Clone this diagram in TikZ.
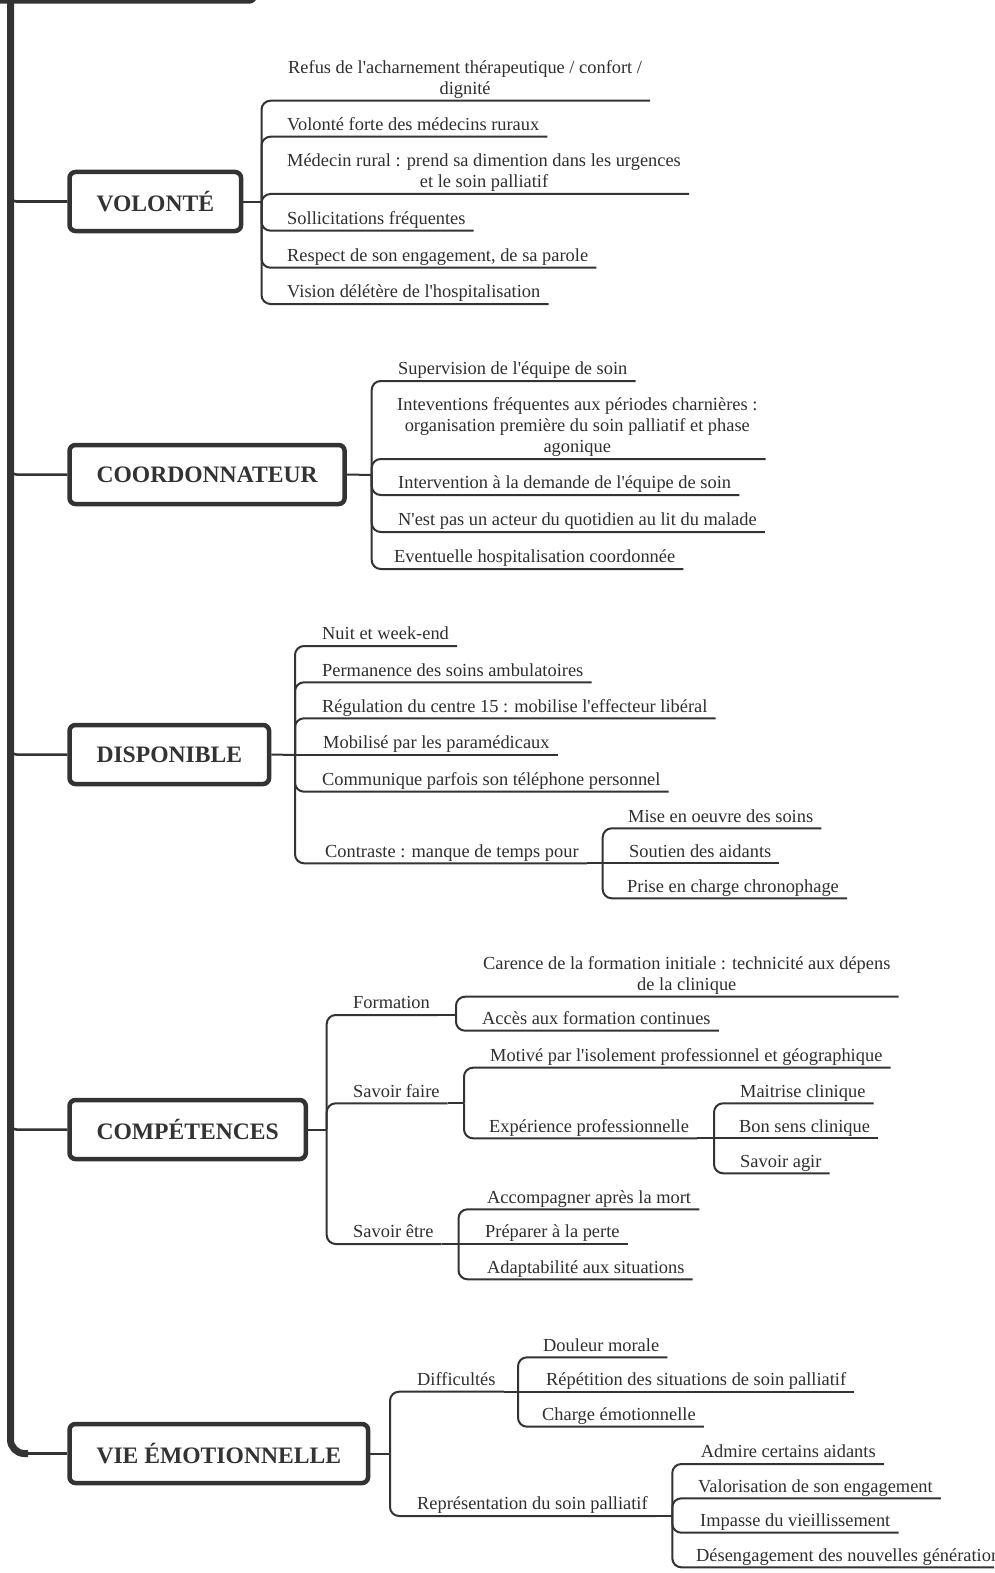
\documentclass[tikz,border=0pt]{standalone}
\usepackage{fontspec}
\newfontfamily\xf{Liberation Serif}
\definecolor{ink}{HTML}{333333}
\definecolor{txt}{HTML}{2F2F2F}
\newcommand{\ml}[1]{\begin{tabular}[b]{@{}c@{}}#1\end{tabular}}
\newcommand{\kids}[2]{\foreach \c in {#2} {\draw[conn] (#1) |- (\c.south east);}}
\tikzset{
  leaf/.style={anchor=south west, inner xsep=8pt, inner ysep=0pt, text depth=6pt,
    font=\xf\fontsize{18.4}{21}\selectfont, text=txt},
  topic/.style={draw=ink, line width=4.5pt, rounded corners=6pt, fill=white, anchor=west,
    inner xsep=27pt, inner ysep=0pt, minimum height=59pt,
    font=\xf\bfseries\fontsize{23.6}{28}\selectfont, text=ink},
  conn/.style={draw=ink, line width=2pt, rounded corners=9pt},
  branch/.style={draw=ink, line width=2.5pt, rounded corners=6pt},
  rootbox/.style={draw=ink, line width=4.5pt, rounded corners=6pt, minimum width=285pt, minimum height=71.5pt, inner sep=0pt},
}
\begin{document}
\begin{tikzpicture}[x=1pt,y=-1pt]
\useasboundingbox (0,0) rectangle (994,1573);
\clip (0,0) rectangle (994,1573);
\fill[white] (0,0) rectangle (994,1573);

% root (mostly outside the picture) and trunk
\node[rootbox] (root) at (112.5,-34.25) {};
\coordinate (t0) at (10.5,0);
\coordinate (tv) at (10.5,201.5);
\coordinate (tc) at (10.5,474.5);
\coordinate (td) at (10.5,754.5);
\coordinate (tk) at (10.5,1129.5);
\coordinate (te) at (10.5,1453.5);
\coordinate (tend) at (28,1453.5);

% main topics
\node[topic] (v) at (67.25,201.5) {VOLONTÉ};
\node[topic] (c) at (67.25,474.5) {COORDONNATEUR};
\node[topic] (d) at (67.25,754.5) {DISPONIBLE};
\node[topic] (k) at (67.25,1129.5) {COMPÉTENCES};
\node[topic] (e) at (67.25,1453.5) {VIE ÉMOTIONNELLE};

\draw[ink, line width=7pt, rounded corners=14pt] (t0) -- (te) -- (tend);
\draw[branch] (tend) -- (e.west);
\draw[branch] (10.5,189.5) -- (tv) -- (v.west);
\draw[branch] (10.5,462.5) -- (tc) -- (c.west);
\draw[branch] (10.5,742.5) -- (td) -- (d.west);
\draw[branch] (10.5,1117.5) -- (tk) -- (k.west);

% ---------- VOLONTE ----------
\coordinate (jv) at (261.5,201.5);
\node[leaf] (v1) at (280,100.7) {\ml{Refus de l'acharnement thérapeutique / confort /\\dignité}};
\node[leaf] (v2) at (279,136.7) {Volonté forte des médecins ruraux};
\node[leaf] (v3) at (279,194) {\ml{Médecin rural : prend sa dimention dans les urgences\\et le soin palliatif}};
\node[leaf] (v4) at (279,230.7) {Sollicitations fréquentes};
\node[leaf] (v5) at (279,267.7) {Respect de son engagement, de sa parole};
\node[leaf] (v6) at (279,304) {Vision délétère de l'hospitalisation};
\draw[conn] (v.east) -- (jv);
\kids{jv}{v1,v2,v3,v4,v5,v6}

% ---------- COORDONNATEUR ----------
\coordinate (jc) at (371.7,475);
\node[leaf] (c1) at (390,381) {Supervision de l'équipe de soin};
\node[leaf] (c2) at (389,459) {\ml{Inteventions fréquentes aux périodes charnières :\\organisation première du soin palliatif et phase\\agonique}};
\node[leaf] (c3) at (390,495) {Intervention à la demande de l'équipe de soin};
\node[leaf] (c4) at (390,532) {N'est pas un acteur du quotidien au lit du malade};
\node[leaf] (c5) at (386,569) {Eventuelle hospitalisation coordonnée};
\draw[conn] (c.east) -- (jc);
\kids{jc}{c1,c2,c3,c4,c5}

% ---------- DISPONIBLE ----------
\coordinate (jd) at (295,755);
\node[leaf] (d1) at (314,646) {Nuit et week-end};
\node[leaf] (d2) at (314,682.3) {Permanence des soins ambulatoires};
\node[leaf] (d3) at (314,718.3) {Régulation du centre 15 : mobilise l'effecteur libéral};
\node[leaf] (d4) at (315,755) {Mobilisé par les paramédicaux};
\node[leaf] (d5) at (314,791.7) {Communique parfois son téléphone personnel};
\node[leaf] (d6) at (317,863.3) {Contraste : manque de temps pour};
\draw[conn] (d.east) -- (jd);
\kids{jd}{d1,d2,d3,d5,d6}
\draw[conn] (jd) -- (d4.south east);
\coordinate (jd6) at (602.7,863.3);
\node[leaf] (d61) at (620,828.3) {Mise en oeuvre des soins};
\node[leaf] (d62) at (621,863.3) {Soutien des aidants};
\node[leaf] (d63) at (619,898.3) {Prise en charge chronophage};
\draw[conn] (d6.south east) -- (jd6);
\kids{jd6}{d61,d63}
\draw[conn] (jd6) -- (d62.south east);

% ---------- COMPETENCES ----------
\coordinate (jk) at (326.7,1129.5);
\node[leaf] (k1) at (345,1015) {Formation};
\node[leaf] (k2) at (345,1103.3) {Savoir faire};
\node[leaf] (k3) at (345,1244) {Savoir être};
\draw[conn] (k.east) -- (jk);
\kids{jk}{k1,k2,k3}

\coordinate (jk1) at (456,1015);
\node[leaf] (k11) at (475,996.7) {\ml{Carence de la formation initiale : technicité aux dépens\\de la clinique}};
\node[leaf] (k12) at (474,1030.7) {Accès aux formation continues};
\draw[conn] (k1.south east) -- (jk1);
\kids{jk1}{k11,k12}

\coordinate (jk2) at (464,1103.3);
\node[leaf] (k21) at (482,1067.7) {Motivé par l'isolement professionnel et géographique};
\node[leaf] (k22) at (481,1138.3) {Expérience professionnelle};
\draw[conn] (k2.south east) -- (jk2);
\kids{jk2}{k21,k22}

\coordinate (jk22) at (714,1138.3);
\node[leaf] (k221) at (732,1103.3) {Maitrise clinique};
\node[leaf] (k222) at (731,1138.3) {Bon sens clinique};
\node[leaf] (k223) at (732,1173.3) {Savoir agir};
\draw[conn] (k22.south east) -- (jk22);
\kids{jk22}{k221,k223}
\draw[conn] (jk22) -- (k222.south east);

\coordinate (jk3) at (458.5,1244);
\node[leaf] (k31) at (479,1209.3) {Accompagner après la mort};
\node[leaf] (k32) at (477,1244) {Préparer à la perte};
\node[leaf] (k33) at (479,1279.3) {Adaptabilité aux situations};
\draw[conn] (k3.south east) -- (jk3);
\kids{jk3}{k31,k33}
\draw[conn] (jk3) -- (k32.south east);

% ---------- VIE EMOTIONNELLE ----------
\coordinate (je) at (390,1453.5);
\node[leaf] (e1) at (409,1391.7) {Difficultés};
\node[leaf] (e2) at (409,1516) {Représentation du soin palliatif};
\draw[conn] (e.east) -- (je);
\kids{je}{e1,e2}

\coordinate (je1) at (518,1391.7);
\node[leaf] (e11) at (535,1357.3) {Douleur morale};
\node[leaf] (e12) at (538,1391.7) {Répétition des situations de soin palliatif};
\node[leaf] (e13) at (534,1426.7) {Charge émotionnelle};
\draw[conn] (e1.south east) -- (je1);
\kids{je1}{e11,e13}
\draw[conn] (je1) -- (e12.south east);

\coordinate (je2) at (672.3,1516);
\node[leaf] (e21) at (692.7,1464) {Admire certains aidants};
\node[leaf] (e22) at (690,1498.3) {Valorisation de son engagement};
\node[leaf] (e23) at (692,1532.7) {Impasse du vieillissement};
\node[leaf] (e24) at (688,1567.3) {Désengagement des nouvelles générations};
\draw[conn] (e2.south east) -- (je2);
\kids{je2}{e21,e22,e23,e24}
\end{tikzpicture}
\end{document}
